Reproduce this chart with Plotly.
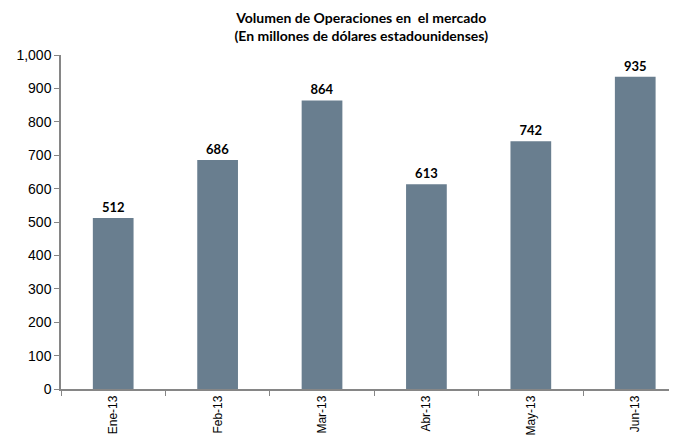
import plotly.graph_objects as go

meses = ["Ene-13", "Feb-13", "Mar-13", "Abr-13", "May-13", "Jun-13"]
volumen = [512, 686, 864, 613, 742, 935]
y_ticks = [0, 100, 200, 300, 400, 500, 600, 700, 800, 900, 1000]
y_labels = ["0", "100", "200", "300", "400", "500", "600", "700", "800", "900", "1,000"]

# page body has an 8px margin, so the figure is a bit smaller than the window
fig = go.Figure()
fig.add_trace(
    go.Bar(
        x=meses,
        y=volumen,
        width=0.39,
        marker=dict(color="#697E8F", line=dict(width=0)),
        text=[str(v) for v in volumen],
        textposition="outside",
        cliponaxis=False,
        textfont=dict(family="Lato", size=13, color="black", weight="bold"),
    )
)

fig.update_layout(
    width=669,
    height=435,
    margin=dict(l=53, r=0, t=47, b=54),
    plot_bgcolor="white",
    paper_bgcolor="white",
    showlegend=False,
    title=dict(
        text="<b>Volumen de Operaciones en  el mercado<br>(En millones de dólares estadounidenses)</b>",
        x=0.528,
        xanchor="center",
        y=0.965,
        yanchor="top",
        font=dict(family="Lato", size=14, color="black"),
    ),
)
fig.update_xaxes(
    range=[-0.5, 5.4],
    tickson="boundaries",
    ticks="outside",
    ticklen=5,
    tickcolor="#868686",
    showline=True,
    linecolor="#868686",
    linewidth=1.5,
    showgrid=False,
    tickangle=-90,
    tickfont=dict(family="Liberation Sans", size=12, color="black"),
)
fig.update_yaxes(
    range=[0, 1000],
    tickvals=y_ticks,
    ticktext=y_labels,
    ticks="outside",
    ticklen=5,
    tickcolor="#868686",
    showline=True,
    linecolor="#868686",
    linewidth=1.5,
    showgrid=False,
    zeroline=False,
    tickfont=dict(family="Liberation Sans", size=14, color="black"),
)

fig.write_html("out.html")
